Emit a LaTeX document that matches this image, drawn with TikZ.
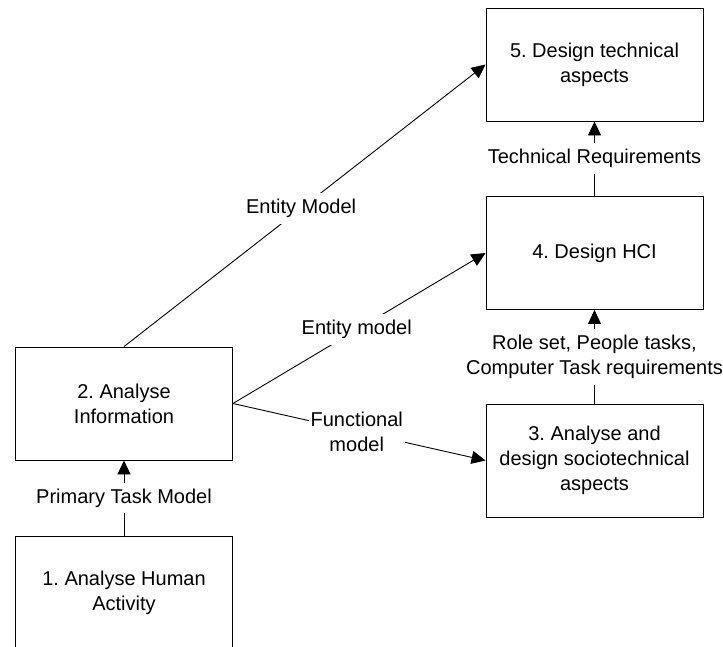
\documentclass[tikz,border=0pt]{standalone}
\usepackage{fontspec}
\setmainfont{Liberation Sans}
\usetikzlibrary{arrows.meta}
\frenchspacing
\begin{document}
\begin{tikzpicture}[x=1pt,y=-1pt,
  every node/.style={font=\fontsize{20pt}{25pt}\selectfont},
  stage/.style={draw, line width=0.9pt, minimum width=217pt, minimum height=113pt,
    align=center, inner sep=0pt},
  flow/.style={line width=0.9pt, -{Triangle[length=14pt,width=13pt]}},
  tag/.style={fill=white, align=center, inner xsep=2pt, inner ysep=6pt}]
  \useasboundingbox (0,0) rectangle (723,646);
  \clip (0,0) rectangle (723,646);

  % process stages
  \node[stage] (s5) at (594.5,64.5)  {5. Design technical\\aspects};
  \node[stage] (s4) at (594.5,253)   {4. Design HCI};
  \node[stage] (s3) at (594.5,460.5) {3. Analyse and\\design sociotechnical\\aspects};
  \node[stage] (s2) at (124,403.5)   {2. Analyse\\Information};
  \node[stage] (s1) at (124,592.5)   {1. Analyse Human\\Activity};

  % information flows between stages
  \draw[flow] (s1.north) -- node[tag] {Primary Task Model} (s2.south);
  \draw[flow] (s4.north) -- node[tag] {Technical Requirements} (s5.south);
  \draw[flow] (s3.north) -- node[tag] {Role set, People tasks,\\Computer Task requirements} (s4.south);
  \draw[flow] (s2.north) -- node[tag, pos=0.49] {Entity Model} (s5.west);
  \draw[flow] (s2.east) -- node[tag, pos=0.49] {Entity model} (s4.west);
  \draw[flow] (s2.east) -- node[tag, pos=0.49] {Functional\\model} (s3.west);
\end{tikzpicture}
\end{document}
